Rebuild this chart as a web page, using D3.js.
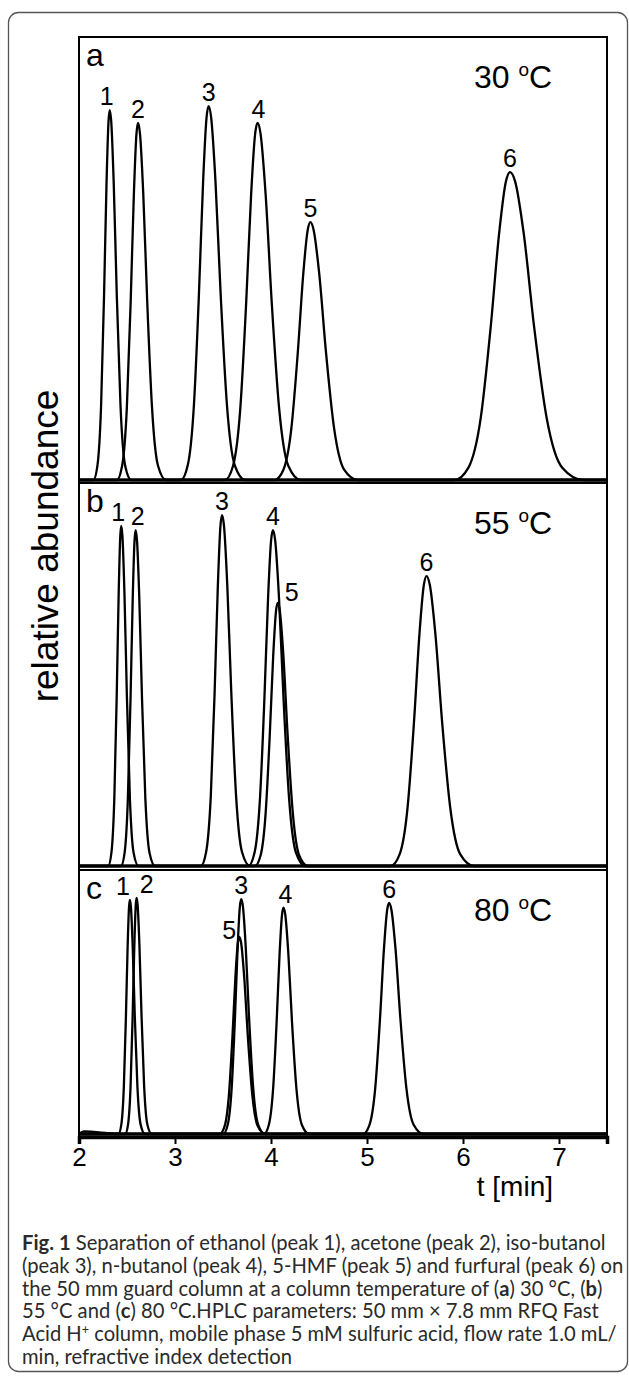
<!DOCTYPE html>
<html><head><meta charset="utf-8">
<script src="https://cdn.jsdelivr.net/npm/d3@7"></script>
<style>body{margin:0;background:#fff}svg{display:block}</style>
</head><body><svg id="chart" width="629" height="1378"></svg>
<script>
// ---- data ----
const panelLetters = ["a", "b", "c"];
const temperatures = ["30", "55", "80"];
const peakNames = ["1", "2", "3", "4", "5", "6"];
// retention time [min], apex height [% of panel], peak width [min]
const retentionA = [2.32, 2.615, 3.35, 3.86, 4.41, 6.49];
const heightA    = [83.5, 80.6, 84.4, 80.6, 58.2, 69.5];
const widthA     = [0.050, 0.065, 0.085, 0.100, 0.110, 0.170];
const retentionB = [2.44, 2.59, 3.49, 4.02, 4.07, 5.62];
const heightB    = [88.8, 87.7, 91.6, 87.7, 68.7, 75.7];
const widthB     = [0.040, 0.045, 0.065, 0.075, 0.070, 0.110];
const retentionC = [2.53, 2.60, 3.69, 4.13, 3.67, 5.23];
const heightC    = [88.7, 89.4, 89.0, 85.7, 74.7, 87.5];
const widthC     = [0.035, 0.035, 0.055, 0.060, 0.060, 0.080];
// normalised peak profile (offset in widths, level in fraction of apex)
const shapeOffsets = [-3.4, -2.55, -1.8, -1.18, -0.67, -0.25, 0, 0.31, 0.84, 1.47, 2.25, 3.2, 4.5];
const shapeLevels  = [0, 0.04, 0.2, 0.5, 0.8, 0.97, 1, 0.97, 0.8, 0.5, 0.2, 0.04, 0];
// small baseline drift at the start of trace c
const driftC = [[2.0, 0], [2.05, 1.0], [2.15, 0.8], [2.3, 0.3], [2.42, 0]];
const xTicks = [2, 3, 4, 5, 6, 7];
const xDomain = [2, 7.5];

const captionLines = [
  [["Fig. 1", "b"], [" Separation of ethanol (peak 1), acetone (peak 2), iso-butanol", ""]],
  [["(peak 3), n-butanol (peak 4), 5-HMF (peak 5) and furfural (peak 6) on", ""]],
  [["the 50 mm guard column at a column temperature of (", ""], ["a", "b"], [") 30 °C, (", ""], ["b", "b"], [")", ""]],
  [["55 °C and (", ""], ["c", "b"], [") 80 °C.HPLC parameters: 50 mm × 7.8 mm RFQ Fast", ""]],
  [["Acid H", ""], ["+", "sup"], [" column, mobile phase 5 mM sulfuric acid, flow rate 1.0 mL/", ""]],
  [["min, refractive index detection", ""]]
];

// ---- layout ----
const svg = d3.select("#chart");
const L = 79, R = 607, T = 37, B = 1137;
const panelTop  = [37, 483, 870];
const panelBase = [480, 866, 1134];
const labelOffsets = [
  [[-3,-5],[0,-5],[0,-5],[1,-5],[0,-5],[0,-5]],
  [[-3,-5],[2,-5],[0,-5],[0,-5],[14,-2],[0,-5]],
  [[-7,-5],[10,-5],[0,-5],[2,-5],[-10,2],[0,-5]]
];
const retention = [retentionA, retentionB, retentionC];
const heights = [heightA, heightB, heightC];
const widths = [widthA, widthB, widthC];

// card
svg.append("rect").attr("x", 8.5).attr("y", 12.5).attr("width", 619).attr("height", 1359)
  .attr("rx", 10).attr("fill", "none").attr("stroke", "#555").attr("stroke-width", 1.3);

const x = d3.scaleLinear().domain(xDomain).range([L, R]);
const font = "'Liberation Sans', Arial, sans-serif";

panelLetters.forEach((p, pi) => {
  const y = d3.scaleLinear().domain([0, 100]).range([panelBase[pi], panelTop[pi]]);
  const line = d3.line().x(d => x(d[0])).y(d => y(d[1])).curve(d3.curveMonotoneX);
  const g = svg.append("g");
  if (pi === 2) {
    g.append("path").datum(driftC.concat([[7.5, 0]])).attr("d", line)
      .attr("fill", "none").attr("stroke", "#000").attr("stroke-width", 2.4);
  }
  peakNames.forEach((n, k) => {
    const t0 = retention[pi][k], h = heights[pi][k], w = widths[pi][k];
    const pts = [[xDomain[0], 0]];
    shapeOffsets.forEach((o, i) => pts.push([t0 + o * w, h * shapeLevels[i]]));
    pts.push([xDomain[1], 0]);
    g.append("path").datum(pts).attr("d", line)
      .attr("fill", "none").attr("stroke", "#000").attr("stroke-width", 2.3)
      .attr("stroke-linejoin", "round");
    const off = labelOffsets[pi][k];
    g.append("text").attr("x", x(t0) + off[0]).attr("y", y(h) + off[1])
      .attr("text-anchor", "middle").attr("font-family", font).attr("font-size", 25)
      .text(n);
  });
  g.append("text").attr("x", 86).attr("y", panelTop[pi] + 29)
    .attr("font-family", font).attr("font-size", 32).text(p);
  const tt = g.append("text").attr("x", 474).attr("y", panelTop[pi] + 51)
    .attr("font-family", font).attr("font-size", 32);
  tt.append("tspan").text(temperatures[pi] + " ");
  tt.append("tspan").attr("font-size", 19).attr("dy", -12).text("o");
  tt.append("tspan").attr("dy", 12).text("C");
});

// frame and dividers
svg.append("rect").attr("x", L).attr("y", T).attr("width", R - L).attr("height", B - T)
  .attr("fill", "none").attr("stroke", "#000").attr("stroke-width", 2);
[483, 870].forEach(yy => svg.append("line").attr("x1", L).attr("x2", R)
  .attr("y1", yy).attr("y2", yy).attr("stroke", "#000").attr("stroke-width", 2));

// x axis
const ax = svg.append("g").attr("transform", `translate(0,${B})`)
  .call(d3.axisBottom(x).tickValues(xTicks).tickFormat(d3.format("d")).tickSize(7).tickPadding(4));
ax.select(".domain").attr("stroke-width", 3.5);
ax.selectAll(".tick line").attr("stroke-width", 2);
ax.selectAll("text").attr("font-family", font).attr("font-size", 26).attr("fill", "#000");
svg.append("text").attr("x", 553).attr("y", 1196).attr("text-anchor", "end")
  .attr("font-family", font).attr("font-size", 28).text("t [min]");

// y title
svg.append("text").attr("transform", "translate(58,546) rotate(-90)")
  .attr("text-anchor", "middle").attr("font-family", font).attr("font-size", 37)
  .text("relative abundance");

// caption
const capFont = "Lato, 'Open Sans', sans-serif";
const capG = svg.append("g").attr("fill", "#2a2a2a");
const capSize = 18;
const lineH = 22.8, capY0 = 1250, capX = 22;
const texts = captionLines.map((parts, li) => {
  const t = capG.append("text").attr("x", capX).attr("y", capY0 + li * lineH)
    .attr("font-family", capFont).attr("font-size", capSize);
  let after = false;
  parts.forEach(([s, st]) => {
    const ts = t.append("tspan").text(s);
    if (st === "b") ts.attr("font-weight", "bold");
    if (st === "sup") { ts.attr("class", "sup").attr("dy", -7); after = true; }
    else if (after) { ts.attr("dy", 7); after = false; }
  });
  return t;
});
const w0 = texts[0].node().getComputedTextLength();
const fs = capSize * 584 / w0;
texts.forEach(t => {
  t.attr("font-size", fs);
  t.selectAll("tspan.sup").attr("font-size", fs * 0.62);
});
</script></body></html>
